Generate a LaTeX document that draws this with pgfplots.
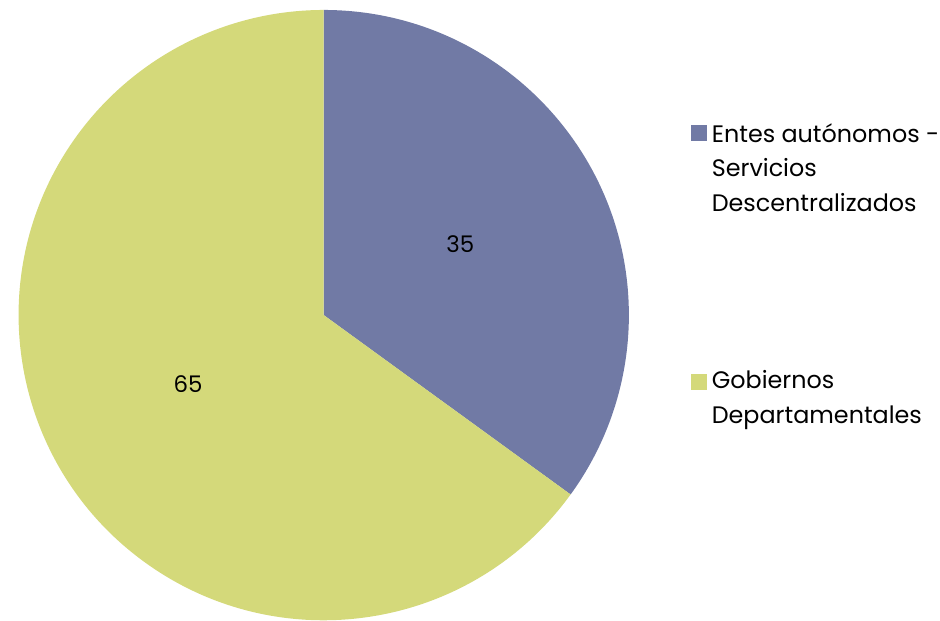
\documentclass[border=0pt]{standalone}
\usepackage{pgfplots}
\usepackage{pgfplotstable}
\pgfplotsset{compat=1.18}
\usepackage{fontspec}
\setmainfont{Poppins}
\definecolor{slateC}{HTML}{717AA5}
\definecolor{limeC}{HTML}{D4D97A}
\pgfplotstableread{
label value
Entes 35
Gobiernos 65
}\piedata
\begin{document}
\pgfplotstablegetelem{0}{value}\of\piedata\let\va\pgfplotsretval
\pgfplotstablegetelem{1}{value}\of\piedata\let\vb\pgfplotsretval
\pgfmathsetmacro{\angA}{90-360*\va/(\va+\vb)}
\begin{tikzpicture}
\begin{axis}[x=1bp,y=1bp,xmin=0,xmax=940,ymin=0,ymax=622,hide axis,clip=false,scale only axis,anchor=south west,at={(0,0)}]
\fill[slateC] (axis cs:322,306) -- ++(90:306bp) arc[start angle=90,end angle=\angA,radius=306bp] -- cycle;
\fill[limeC] (axis cs:322,306) -- ++(\angA:306bp) arc[start angle=\angA,end angle=-270,radius=306bp] -- cycle;
\node[font=\fontsize{23}{26}\selectfont] at (axis cs:459,377) {\va};
\node[font=\fontsize{23}{26}\selectfont] at (axis cs:186,237) {\vb};
\fill[slateC] (axis cs:690,481) rectangle (axis cs:706,497);
\fill[limeC] (axis cs:690,231) rectangle (axis cs:706,247);
\node[anchor=west,align=left,font=\fontsize{24}{35}\selectfont,inner sep=0pt] at (axis cs:711,454) {Entes autónomos -\\Servicios\\Descentralizados};
\node[anchor=west,align=left,font=\fontsize{24}{35}\selectfont,inner sep=0pt] at (axis cs:711,221) {Gobiernos\\Departamentales};
\end{axis}
\pgfresetboundingbox
\path[use as bounding box] (0,0) rectangle (940bp,622bp);
\end{tikzpicture}
\end{document}
